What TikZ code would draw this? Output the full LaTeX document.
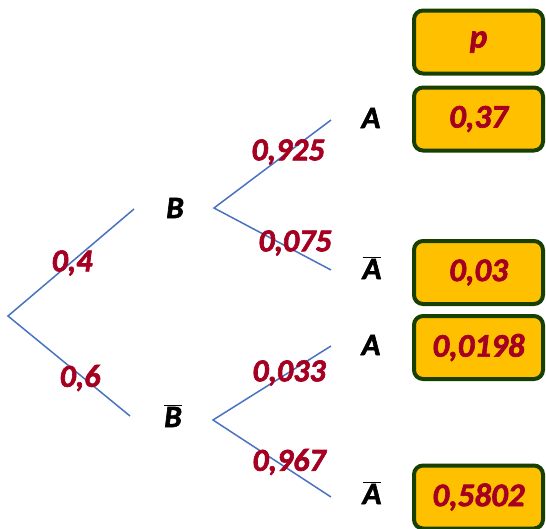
\documentclass[tikz,border=0pt]{standalone}
\usepackage{fontspec}
\setmainfont{Carlito}
\newfontfamily\heavy[FakeBold=2]{Carlito}
\definecolor{edgeblue}{HTML}{4A72C0}
\definecolor{numred}{HTML}{A50021}
\definecolor{boxfill}{HTML}{FFC000}
\definecolor{boxline}{HTML}{173F00}
\newcommand{\ovl}[1]{$\overline{\hbox{#1}}$}
\tikzset{
  branch/.style={draw=edgeblue, line width=1.5pt},
  prob/.style={text=numred, font=\heavy\fontsize{32}{32}\selectfont\bfseries\itshape, inner sep=0pt},
  event/.style={text=black, font=\heavy\fontsize{31}{31}\selectfont\bfseries\itshape, inner sep=0pt},
  resbox/.style={draw=boxline, fill=boxfill, line width=4pt, rounded corners=9pt,
    minimum width=129pt, minimum height=63pt, text=numred,
    font=\heavy\fontsize{33}{33}\selectfont\bfseries\itshape, inner sep=0pt},
}
\begin{document}
\begin{tikzpicture}[x=1pt,y=-1pt]
\useasboundingbox (0,0) rectangle (546,528);
% branch points
\coordinate (root) at (8,316);
\coordinate (bEnd) at (134,209);
\coordinate (nbEnd) at (130,416);
\coordinate (bStart) at (214,208);
\coordinate (nbStart) at (213,420);
\coordinate (a1) at (331,120);
\coordinate (na1) at (331,270);
\coordinate (a2) at (331,346);
\coordinate (na2) at (331,497);
% event labels
\node[event] (B) at (175,208) {B};
\node[event] (nB) at (173,416) {\ovl{B}};
\node[event] (A1) at (371,118) {A};
\node[event] (nA1) at (372,268) {\ovl{A}};
\node[event] (A2) at (371,345) {A};
\node[event] (nA2) at (372,493) {\ovl{A}};
% branches
\draw[branch] (bEnd) -- (root) -- (nbEnd);
\draw[branch] (a1) -- (bStart) -- (na1);
\draw[branch] (a2) -- (nbStart) -- (na2);
% probabilities
\node[prob] (p1) at (72,263) {0,4};
\node[prob] (p2) at (80,378) {0,6};
\node[prob] (p3) at (288,152) {0,925};
\node[prob] (p4) at (295,243) {0,075};
\node[prob] (p5) at (289,373) {0,033};
\node[prob] (p6) at (289,462) {0,967};
% result boxes
\node[resbox] (hp) at (478.5,42) {p};
\node[resbox] (r1) at (478.5,119) {0,37};
\node[resbox] (r2) at (478.5,272.5) {0,03};
\node[resbox] (r3) at (478.5,347.5) {0,0198};
\node[resbox] (r4) at (478.5,497) {0,5802};
\end{tikzpicture}
\end{document}
